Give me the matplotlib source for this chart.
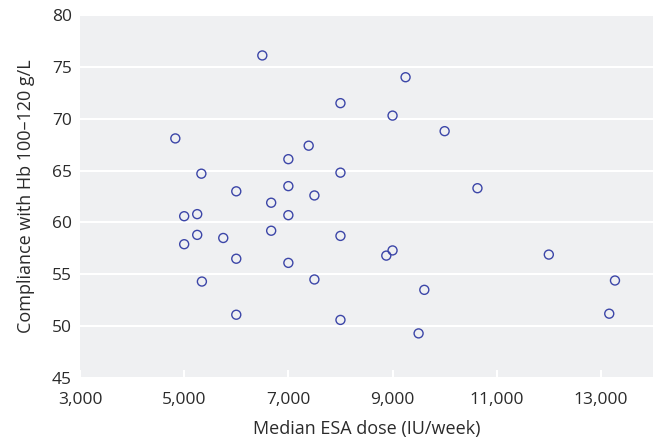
import matplotlib.pyplot as plt

plt.rcParams['font.family'] = ['Open Sans', 'DejaVu Sans']

# median ESA dose (IU/week) per centre
esaDose = [6500, 4830, 7390, 7000, 5330, 6000, 7000, 7500, 6670, 5000, 5250, 7000,
           9250, 8000, 9000, 10000, 8000, 10630,
           5000, 5250, 5750, 6670, 6000, 7000, 5340, 7500, 6000,
           8000, 8880, 9000, 12000, 13270, 9610, 8000, 9500, 13160]
# compliance with Hb 100-120 g/L (%)
compliance = [76.1, 68.1, 67.4, 66.1, 64.7, 63.0, 63.5, 62.6, 61.9, 60.6, 60.8, 60.7,
              74.0, 71.5, 70.3, 68.8, 64.8, 63.3,
              57.9, 58.8, 58.5, 59.2, 56.5, 56.1, 54.3, 54.5, 51.1,
              58.7, 56.8, 57.3, 56.9, 54.4, 53.5, 50.6, 49.3, 51.2]

xTicks = [3000, 5000, 7000, 9000, 11000, 13000]
yTicks = [45, 50, 55, 60, 65, 70, 75, 80]

fig = plt.figure(figsize=(6.59, 4.42), dpi=100)
ax = fig.add_axes([80 / 659, 1 - 378 / 442, 573 / 659, 363 / 442])
ax.set_facecolor('#eff0f2')

ax.scatter(esaDose, compliance, s=42, facecolors='none', edgecolors='#3c46a8',
           linewidths=1.0, zorder=3)

ax.set_xlim(3000, 14000)
ax.set_ylim(45, 80)
ax.set_xticks(xTicks)
ax.set_xticklabels([f'{t:,}' for t in xTicks])
ax.set_yticks(yTicks)

ax.grid(axis='y', color='white', linewidth=1.5)
ax.set_axisbelow(True)
for s in ax.spines.values():
    s.set_visible(False)

ax.tick_params(axis='x', direction='in', length=6, width=1.5, color='white',
               labelsize=12.5, labelcolor='#2b2b2b', pad=10)
ax.tick_params(axis='y', length=0, labelsize=12.5, labelcolor='#2b2b2b', pad=6)

ax.set_xlabel('Median ESA dose (IU/week)', fontsize=13, color='#2b2b2b', labelpad=9)
ax.set_ylabel('Compliance with Hb 100\u2013120 g/L', fontsize=13, color='#2b2b2b', labelpad=12)

fig.savefig('out.png', dpi=100)
